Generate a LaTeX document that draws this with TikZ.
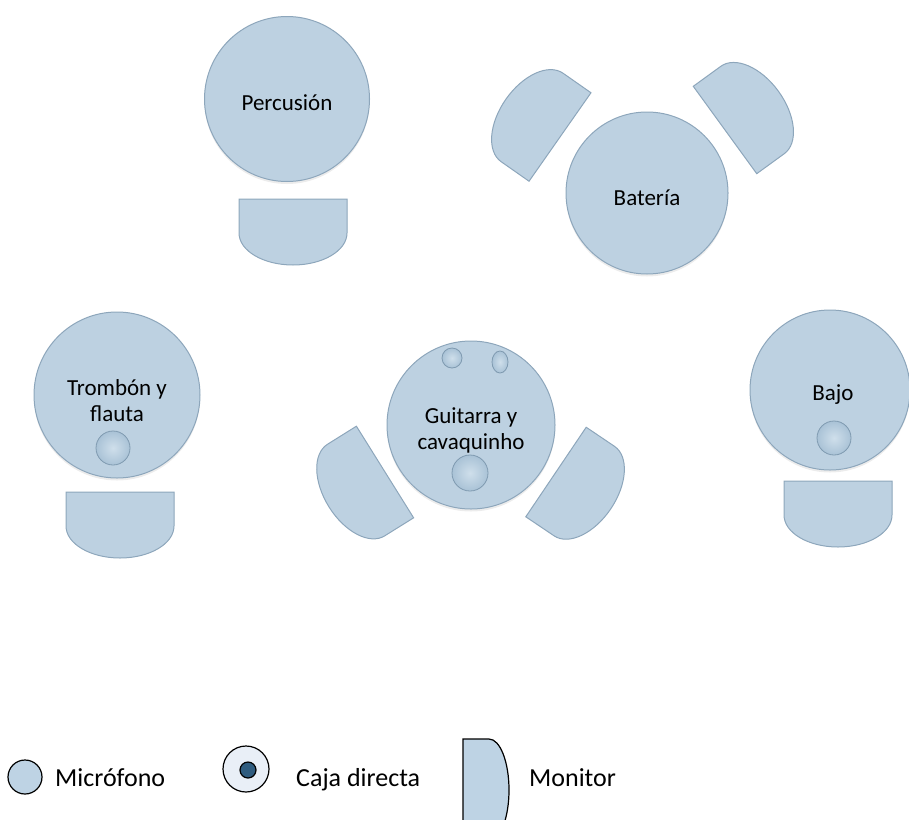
\documentclass[tikz,border=0pt]{standalone}
\usepackage{fontspec}
\setmainfont{Carlito}
\usetikzlibrary{shapes.geometric,shadows}
\definecolor{stageblue}{HTML}{BDD1E1}
\definecolor{stageedge}{HTML}{8DA6BB}
\definecolor{micblue}{HTML}{A9C2D6}
\definecolor{micglow}{HTML}{CFDFEB}
\definecolor{micedge}{HTML}{7F9AB0}
\definecolor{legblue}{HTML}{BED3E4}
\definecolor{boxpale}{HTML}{E9EFF7}
\definecolor{boxdark}{HTML}{2F5C7F}
\tikzset{
  area/.style={circle,draw=stageedge,fill=stageblue,line width=1pt,inner sep=0pt,
    drop shadow={opacity=0.15,shadow xshift=0pt,shadow yshift=-2.5pt}},
  areatext/.style={align=center,inner sep=0pt,font=\fontsize{23}{26}\selectfont},
  mic/.style={circle,draw=micedge,line width=0.8pt,inner color=micglow,outer color=micblue,
    minimum size=34pt,inner sep=0pt},
  monitor/.pic={
    \draw[draw=stageedge,fill=stageblue,line width=1pt]
      (-54,0) -- (54,0) -- (54,-34)
      arc[start angle=0,end angle=-180,x radius=54,y radius=32] -- cycle;
  },
  legsym/.style={circle,draw=black,line width=1.2pt,inner sep=0pt},
  legtext/.style={font=\fontsize{26}{30}\selectfont,inner sep=0pt,anchor=base west}
}

\begin{document}
\begin{tikzpicture}[x=1pt,y=1pt]
  \useasboundingbox (0,0) rectangle (909,-819);
  \clip (0,0) rectangle (909,-819);

  % monitors
  \pic at (293,-199) {monitor};
  \pic[rotate=-125] at (560,-137) {monitor};
  \pic[rotate=126] at (725,-130) {monitor};
  \pic at (120,-492) {monitor};
  \pic[rotate=-58] at (385,-472) {monitor};
  \pic[rotate=56] at (556,-472) {monitor};
  \pic at (838,-481) {monitor};

  % instruments
  \node[area,minimum size=165pt] (perc) at (287,-99) {};
  \node[area,minimum size=162pt] (bat) at (647,-193) {};
  \node[area,minimum size=166pt] (tromb) at (117,-395) {};
  \node[area,minimum size=168pt] (guit) at (471,-425) {};
  \node[area,minimum size=160pt] (bajo) at (830,-390) {};
  \node[areatext] (perclabel) at ([yshift=-4pt]perc.center) {Percusión};
  \node[areatext] (batlabel) at ([yshift=-5pt]bat.center) {Batería};
  \node[areatext] (tromblabel) at ([yshift=-6pt]tromb.center) {Trombón y\\flauta};
  \node[areatext] (guitlabel) at ([yshift=-5pt]guit.center) {Guitarra y\\cavaquinho};
  \node[areatext] (bajolabel) at ([xshift=3pt,yshift=-5pt]bajo.center) {Bajo};

  % microphones
  \node[mic] (trombmic) at (113,-448) {};
  \node[mic,minimum size=36pt] (guitmic) at (470,-473) {};
  \node[mic,minimum size=20pt] (guitmica) at (452,-358) {};
  \node[mic,ellipse,minimum width=16pt,minimum height=22pt] (guitmicb) at (500,-362) {};
  \node[mic] (bajomic) at (834,-438) {};

  % legend
  \node[legsym,fill=legblue,minimum size=34pt] (micleg) at (25,-777) {};
  \node[legtext] (mictext) at (55,-786) {Micrófono};
  \node[legsym,fill=boxpale,minimum size=46pt] (boxleg) at (246,-769) {};
  \node[legsym,fill=boxdark,minimum size=16pt] (boxdot) at (248,-770) {};
  \node[legtext] (boxtext) at (296,-786) {Caja directa};
  \draw[fill=legblue,line width=1.2pt] (463,-739) -- (489,-739)
    arc[start angle=90,end angle=-90,x radius=20,y radius=51] -- (463,-841) -- cycle;
  \node[legtext] (montext) at (529,-786) {Monitor};
\end{tikzpicture}
\end{document}
